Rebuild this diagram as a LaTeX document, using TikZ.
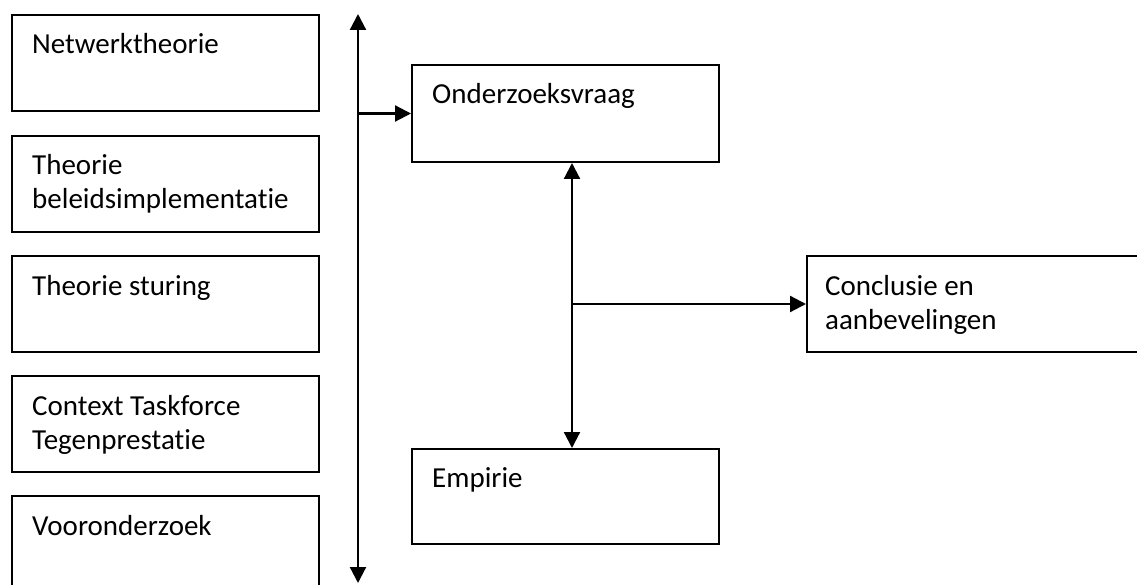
\documentclass[tikz,border=0pt]{standalone}
\usepackage{fontspec}
\setmainfont{Carlito}[Ligatures=NoCommon]
\usetikzlibrary{arrows.meta,calc}
\tikzset{
  box/.style={draw=black, line width=2pt, rectangle, inner sep=0pt, anchor=north west},
  sidebox/.style={box, minimum width=307pt, minimum height=96pt},
  mainbox/.style={box, minimum width=307pt, minimum height=97pt},
  txt/.style={anchor=north west, inner sep=0pt, align=left, font=\fontsize{29}{34}\selectfont},
  tip/.tip={Triangle[length=16pt,width=16pt]},
  link/.style={line width=2.2pt, -tip},
  both/.style={line width=2.2pt, tip-tip}
}
\begin{document}
\begin{tikzpicture}[x=1pt,y=-1pt]
\useasboundingbox (0,0) rectangle (1137,585);
\clip (0,0) rectangle (1137,585);
\fill[white] (0,0) rectangle (1137,585);

% theory column
\node[sidebox] (nw) at (11,14) {};
\node[sidebox] (bi) at (11,135) {};
\node[sidebox] (st) at (11,255) {};
\node[sidebox] (ct) at (11,375) {};
\node[sidebox] (vo) at (11,495) {};
\node[txt] (nw-t) at ([shift={(21pt,-16pt)}]nw.north west) {\strut Netwerktheorie};
\node[txt] (bi-t) at ([shift={(21pt,-16pt)}]bi.north west) {\strut Theorie\\beleidsimplementatie};
\node[txt] (st-t) at ([shift={(21pt,-16pt)}]st.north west) {\strut Theorie sturing};
\node[txt] (ct-t) at ([shift={(21pt,-16pt)}]ct.north west) {\strut Context Taskforce\\Tegenprestatie};
\node[txt] (vo-t) at ([shift={(21pt,-16pt)}]vo.north west) {\strut Vooronderzoek};

% research boxes
\node[mainbox] (ov) at (411,64) {};
\node[mainbox, minimum height=95pt] (em) at (411,448) {};
\node[box, minimum width=340pt, minimum height=96pt] (cc) at (806,255) {};
\node[txt] (ov-t) at ([shift={(21pt,-16pt)}]ov.north west) {\strut Onderzoeksvraag};
\node[txt] (em-t) at ([shift={(21pt,-15pt)}]em.north west) {\strut Empirie};
\node[txt] (cc-t) at ([shift={(19pt,-16pt)}]cc.north west) {\strut Conclusie en\\aanbevelingen};

% vertical bus next to the theory column
\coordinate (bustop) at (358,14);
\coordinate (busbot) at (358,583);
\draw[both] (busbot) -- (bustop);
\draw[link] (bustop |- ov.west) -- (ov.west);

% link between question and empirical part, branching to the conclusion
\coordinate (qs) at ([xshift=6.5pt]ov.south);
\coordinate (en) at ([xshift=6.5pt]em.north);
\draw[both] (en) -- (qs);
\coordinate (branch) at (qs |- cc.west);
\draw[link] (branch) -- (cc.west);
\end{tikzpicture}
\end{document}
